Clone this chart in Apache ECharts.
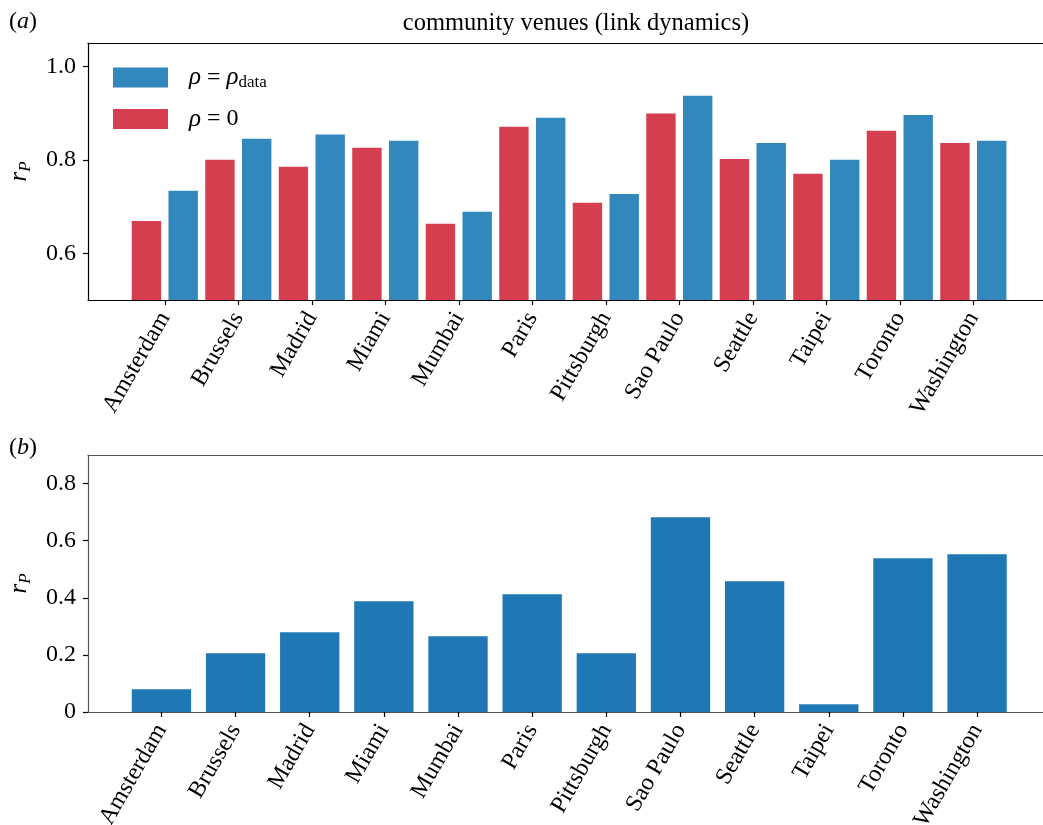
<!DOCTYPE html>
<html>
<head>
<meta charset="utf-8">
<script src="https://cdn.jsdelivr.net/npm/echarts@6/dist/echarts.min.js"></script>
<style>
  html, body { margin: 0; padding: 0; background: #fff; }
  #chart { width: 1043px; height: 825px; }
</style>
</head>
<body>
<div id="chart"></div>
<script>
// city order on both panels
const cities = ['Amsterdam', 'Brussels', 'Madrid', 'Miami', 'Mumbai', 'Paris',
  'Pittsburgh', 'Sao Paulo', 'Seattle', 'Taipei', 'Toronto', 'Washington'];
// panel (a): rho = 0 (red) and rho = rho_data (blue)
const rhoZero = [0.669, 0.800, 0.785, 0.826, 0.663, 0.871, 0.708, 0.899, 0.802, 0.770, 0.862, 0.836];
const rhoData = [0.734, 0.845, 0.854, 0.841, 0.689, 0.890, 0.727, 0.937, 0.836, 0.800, 0.896, 0.841];
// panel (b)
const panelB = [0.080, 0.206, 0.279, 0.388, 0.265, 0.412, 0.206, 0.682, 0.458, 0.027, 0.538, 0.552];
const topTicks = [0.6, 0.8, 1.0];
const bottomTicks = [0, 0.2, 0.4, 0.6, 0.8];

const FONT = '"Liberation Serif", "DejaVu Serif", serif';
const idx = cities.map((c, i) => i);

let chart = echarts.init(document.getElementById('chart'), null, { renderer: 'canvas' });

function xAxisFor(grid, min, max, lineColor) {
  return {
    type: 'value',
    gridIndex: grid,
    min: min,
    max: max,
    splitLine: { show: false },
    axisLine: { show: true, onZero: false, lineStyle: { color: lineColor, width: 1.2 } },
    axisTick: { show: true, customValues: idx, length: 5, lineStyle: { color: '#000', width: 1.2 } },
    axisLabel: {
      customValues: idx,
      formatter: v => cities[Math.round(v)],
      rotate: 60,
      margin: 14,
      fontSize: 24,
      fontFamily: FONT,
      color: '#000',
    },
  };
}

// top spine only (matplotlib frame, right side is cut off by the figure)
function topSpine(grid, min, max, lineColor) {
  return {
    type: 'value',
    gridIndex: grid,
    position: 'top',
    min: min,
    max: max,
    splitLine: { show: false },
    axisLine: { show: true, onZero: false, lineStyle: { color: lineColor, width: 1.2 } },
    axisTick: { show: false },
    axisLabel: { show: false },
  };
}

function yAxisFor(grid, min, max, ticks, lineColor) {
  return {
    type: 'value',
    gridIndex: grid,
    min: min,
    max: max,
    splitLine: { show: false },
    axisLine: { show: true, onZero: false, lineStyle: { color: lineColor, width: 1.2 } },
    axisTick: { show: true, customValues: ticks, length: 5, lineStyle: { color: '#000', width: 1.2 } },
    axisLabel: {
      customValues: ticks,
      formatter: v => (v === 0 ? '0' : v.toFixed(1)),
      margin: 12,
      fontSize: 24,
      fontFamily: FONT,
      color: '#000',
    },
    name: '{r|r}{p|P}',
    nameLocation: 'middle',
    nameRotate: 90,
    nameGap: 54,
    nameTextStyle: {
      rich: {
        r: { fontSize: 25, fontStyle: 'italic', fontFamily: FONT, color: '#000', lineHeight: 30 },
        p: { fontSize: 17, fontStyle: 'italic', fontFamily: FONT, color: '#000', verticalAlign: 'bottom', lineHeight: 16 },
      },
    },
  };
}

let option = {
  animation: false,
  backgroundColor: '#fff',
  title: [
    {
      text: 'community venues (link dynamics)',
      left: 576,
      top: 11,
      padding: 0,
      textAlign: 'center',
      textStyle: { fontSize: 24.5, fontWeight: 'normal', fontFamily: FONT, color: '#000' },
    },
    {
      text: '({i|a})',
      left: 9,
      top: 10,
      padding: 0,
      textStyle: {
        fontSize: 24, fontWeight: 'normal', fontFamily: FONT, color: '#000',
        rich: { i: { fontSize: 24, fontStyle: 'italic', fontFamily: FONT, color: '#000' } },
      },
    },
    {
      text: '({i|b})',
      left: 9,
      top: 436,
      padding: 0,
      textStyle: {
        fontSize: 24, fontWeight: 'normal', fontFamily: FONT, color: '#000',
        rich: { i: { fontSize: 24, fontStyle: 'italic', fontFamily: FONT, color: '#000' } },
      },
    },
  ],
  legend: {
    data: ['data', 'zero'],
    orient: 'vertical',
    left: 113,
    top: 65,
    padding: 0,
    icon: 'rect',
    itemWidth: 55,
    itemHeight: 20,
    itemGap: 15,
    selectedMode: false,
    formatter: name => (name === 'data' ? '{i|ρ} = {i|ρ}{s|data}' : '{i|ρ} = 0'),
    textStyle: {
      fontSize: 24,
      fontFamily: FONT,
      color: '#000',
      padding: [0, 0, 0, 16],
      rich: {
        i: { fontSize: 25, fontStyle: 'italic', fontFamily: FONT, color: '#000', lineHeight: 28 },
        s: { fontSize: 17, fontFamily: FONT, color: '#000', verticalAlign: 'bottom', lineHeight: 14 },
      },
    },
  },
  grid: [
    { left: 88, top: 43, width: 955, height: 257, outerBoundsMode: 'none', containLabel: false },
    { left: 88, top: 455, width: 955, height: 257, outerBoundsMode: 'none', containLabel: false },
  ],
  xAxis: [
    xAxisFor(0, -1.045, 11.948, '#000'),
    xAxisFor(1, -0.99, 11.889, '#555'),
    topSpine(0, -1.045, 11.948, '#000'),
    topSpine(1, -0.99, 11.889, '#555'),
  ],
  yAxis: [
    yAxisFor(0, 0.5, 1.05, topTicks, '#000'),
    yAxisFor(1, 0, 0.9, bottomTicks, '#555'),
  ],
  series: [
    {
      name: 'zero',
      type: 'bar',
      xAxisIndex: 0,
      yAxisIndex: 0,
      barWidth: '40%',
      barGap: '25%',
      clip: true,
      itemStyle: { color: '#d53e4f' },
      data: rhoZero.map((v, i) => [i, v]),
    },
    {
      name: 'data',
      type: 'bar',
      xAxisIndex: 0,
      yAxisIndex: 0,
      barWidth: '40%',
      barGap: '25%',
      clip: true,
      itemStyle: { color: '#3288bd' },
      data: rhoData.map((v, i) => [i, v]),
    },
    {
      name: 'panelB',
      type: 'bar',
      xAxisIndex: 1,
      yAxisIndex: 1,
      barWidth: '80%',
      itemStyle: { color: '#1f77b4' },
      data: panelB.map((v, i) => [i, v]),
    },
  ],
};
chart.setOption(option);
</script>
</body>
</html>
